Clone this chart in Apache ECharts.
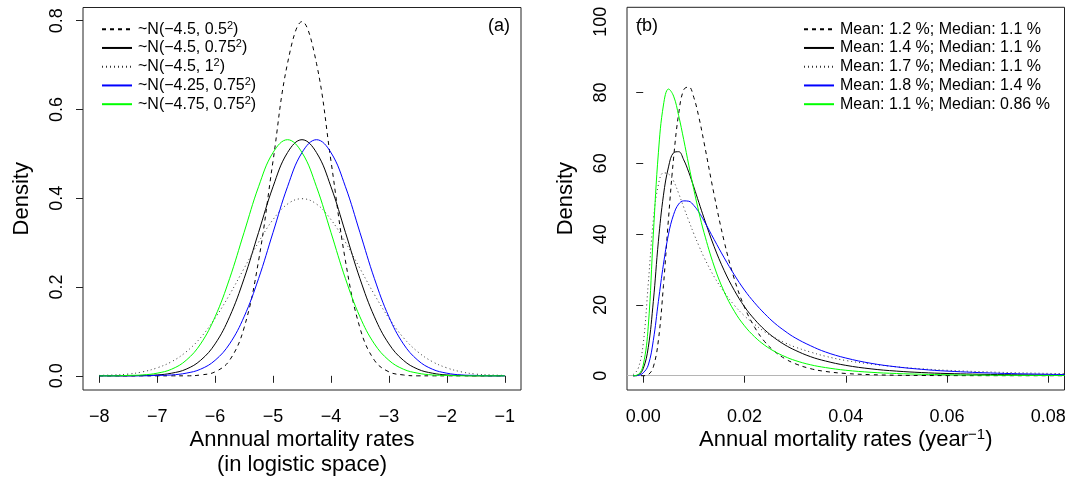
<!DOCTYPE html>
<html>
<head>
<meta charset="utf-8">
<script src="https://cdn.jsdelivr.net/npm/echarts@6/dist/echarts.min.js"></script>
<style>
  html, body { margin: 0; padding: 0; background: #fff; }
  #chart { width: 1076px; height: 477px; }
</style>
</head>
<body>
<div id="chart"></div>
<script>
// ---- Panel (a): densities of annual mortality in logistic space ----
const logitX = [-8, -7.75, -7.5, -7.25, -7, -6.75, -6.5, -6.25, -6, -5.75, -5.5, -5.25, -5, -4.75,
  -4.5, -4.25, -4, -3.75, -3.5, -3.25, -3, -2.75, -2.5, -2.25, -2, -1.75, -1.5, -1.25, -1];
const logitDashed = [0, 0, 0, 0, 0, 0, 0, 0.002, 0.009, 0.035, 0.108, 0.259, 0.484, 0.704,
  0.798, 0.704, 0.484, 0.259, 0.108, 0.035, 0.009, 0.002, 0, 0, 0, 0, 0, 0, 0];
const logitSolid = [0, 0, 0, 0.001, 0.002, 0.006, 0.015, 0.035, 0.072, 0.133, 0.219, 0.323, 0.426, 0.503,
  0.532, 0.503, 0.426, 0.323, 0.219, 0.133, 0.072, 0.035, 0.015, 0.006, 0.002, 0.001, 0, 0, 0];
const logitDotted = [0.001, 0.002, 0.004, 0.009, 0.018, 0.032, 0.054, 0.086, 0.130, 0.183, 0.242, 0.301, 0.352, 0.387,
  0.399, 0.387, 0.352, 0.301, 0.242, 0.183, 0.130, 0.086, 0.054, 0.032, 0.018, 0.009, 0.004, 0.002, 0.001];
const logitBlue = [0, 0, 0, 0, 0.001, 0.002, 0.006, 0.015, 0.035, 0.072, 0.133, 0.219, 0.323, 0.426,
  0.503, 0.532, 0.503, 0.426, 0.323, 0.219, 0.133, 0.072, 0.035, 0.015, 0.006, 0.002, 0.001, 0, 0];
const logitGreen = [0, 0, 0.001, 0.002, 0.006, 0.015, 0.035, 0.072, 0.133, 0.219, 0.323, 0.426, 0.503,
  0.532, 0.503, 0.426, 0.323, 0.219, 0.133, 0.072, 0.035, 0.015, 0.006, 0.002, 0.001, 0, 0, 0, 0];
const logitNames = [
  '~N(−4.5, 0.5{sup|2})',
  '~N(−4.5, 0.75{sup|2})',
  '~N(−4.5, 1{sup|2})',
  '~N(−4.25, 0.75{sup|2})',
  '~N(−4.75, 0.75{sup|2})'
];
const logitTicksX = [-8, -7, -6, -5, -4, -3, -2, -1];
const logitTickLabelsX = ['−8', '−7', '−6', '−5', '−4', '−3', '−2', '−1'];
const logitTicksY = [0, 0.2, 0.4, 0.6, 0.8];
const logitTickLabelsY = ['0.0', '0.2', '0.4', '0.6', '0.8'];

// ---- Panel (b): densities of annual mortality rates ----
const rateX = [-0.002, -0.001, 0, 0.001, 0.002, 0.003, 0.004, 0.005, 0.006, 0.007, 0.008, 0.009, 0.010, 0.011, 0.012,
  0.014, 0.016, 0.018, 0.020, 0.022, 0.024, 0.026, 0.028, 0.030,
  0.033, 0.036, 0.040, 0.045, 0.050, 0.055, 0.060, 0.070, 0.080, 0.0832];
const rateDashed = [0, 0, 0, 0.3, 2.5, 10, 25.5, 44.5, 61.5, 74, 80.8, 81.6, 78.6, 73, 66,
  51.2, 37.9, 27.3, 19.4, 13.7, 9.6, 6.8, 4.8, 3.4,
  2.0, 1.2, 0.63, 0.29, 0.13, 0.06, 0.03, 0.01, 0, 0];
const rateSolid = [0, 0.2, 2, 8, 21, 38, 51, 59, 63, 63.3, 61, 57.5, 53.3, 48.9, 44.6,
  36.5, 29.7, 24.1, 19.5, 15.9, 12.95, 10.6, 8.7, 7.2,
  5.4, 4.15, 2.93, 1.93, 1.30, 0.89, 0.62, 0.32, 0.17, 0.14];
const rateDotted = [0.3, 2, 9, 26, 44, 54, 57.3, 57, 55, 51.5, 47.6, 43.8, 40.1, 36.7, 33.5,
  28.0, 23.6, 19.9, 16.9, 14.5, 12.4, 10.7, 9.3, 8.1,
  6.7, 5.5, 4.3, 3.3, 2.5, 1.95, 1.53, 0.98, 0.65, 0.58];
const rateBlue = [0, 0.1, 0.8, 3, 10, 21, 31.5, 40, 45.5, 48.5, 49.4, 49.3, 48.1, 46.2, 43.8,
  38.5, 33.3, 28.5, 24.2, 20.6, 17.5, 14.8, 12.6, 10.7,
  8.5, 6.7, 5.0, 3.5, 2.5, 1.8, 1.3, 0.7, 0.4, 0.33];
const rateGreen = [0, 0.3, 3, 14, 40, 63, 76.5, 81, 79, 73.5, 66.7, 59.5, 52.6, 46.2, 40.5,
  31.0, 23.7, 18.2, 14.1, 11.0, 8.6, 6.8, 5.4, 4.3,
  3.1, 2.3, 1.54, 0.96, 0.62, 0.41, 0.27, 0.13, 0.06, 0.05];
const rateNames = [
  'Mean: 1.2 %; Median: 1.1 %',
  'Mean: 1.4 %; Median: 1.1 %',
  'Mean: 1.7 %; Median: 1.1 %',
  'Mean: 1.8 %; Median: 1.4 %',
  'Mean: 1.1 %; Median: 0.86 %'
];
const rateTicksX = [0, 0.02, 0.04, 0.06, 0.08];
const rateTickLabelsX = ['0.00', '0.02', '0.04', '0.06', '0.08'];
const rateTicksY = [0, 20, 40, 60, 80, 100];
const rateTickLabelsY = ['0', '20', '40', '60', '80', '100'];

// ---- styling shared by both panels ----
const FONT = '"Liberation Sans", Arial, Helvetica, sans-serif';
const INK = '#000';
const lineKinds = [
  { color: '#000', type: [4, 4] },
  { color: '#000', type: 'solid' },
  { color: '#333', type: [1, 3] },
  { color: '#0000ff', type: 'solid' },
  { color: '#00ff00', type: 'solid' }
];

function pairs(xs, ys) { return xs.map((x, i) => [x, ys[i]]); }
function labelFrom(ticks, labels) {
  return v => {
    const i = ticks.findIndex(t => Math.abs(t - v) < 1e-9);
    return i < 0 ? '' : labels[i];
  };
}

function densitySeries(name, xs, ys, kind, axisIdx) {
  return {
    type: 'line', name, xAxisIndex: axisIdx, yAxisIndex: axisIdx,
    data: pairs(xs, ys), symbol: 'none', smooth: 0.4,
    lineStyle: { width: 1, color: kind.color, type: kind.type },
    itemStyle: { color: kind.color },
    emphasis: { disabled: true }, silent: true
  };
}

function xAxisFor(idx, min, max, ticks, labels, name, nameStyle) {
  return {
    type: 'value', gridIndex: idx, min, max,
    splitLine: { show: false }, axisLine: { show: false },
    axisTick: { show: true, length: 7, customValues: ticks, lineStyle: { color: '#222', width: 1 } },
    axisLabel: { customValues: ticks, formatter: labelFrom(ticks, labels),
      fontSize: 18, color: INK, fontFamily: FONT, margin: 18 },
    name, nameLocation: 'middle', nameGap: 37, nameMoveOverlap: false, nameTextStyle: nameStyle
  };
}

function yAxisFor(idx, min, max, ticks, labels) {
  return {
    type: 'value', gridIndex: idx, min, max,
    splitLine: { show: false }, axisLine: { show: false },
    axisTick: { show: true, length: 7, customValues: ticks, lineStyle: { color: '#222', width: 1 } },
    axisLabel: { customValues: ticks, formatter: labelFrom(ticks, labels), rotate: 90,
      fontSize: 18, color: INK, fontFamily: FONT, margin: 17 },
    name: 'Density', nameLocation: 'middle', nameRotate: 90, nameGap: 50, nameMoveOverlap: false,
    nameTextStyle: { fontSize: 22, color: INK, fontFamily: FONT }
  };
}

function legendFor(names, left) {
  return {
    data: names, orient: 'vertical', left, top: 15.2,
    itemWidth: 30, itemHeight: 10, itemGap: 0.75,
    formatter: n => n,
    // the legend shows only the line sample, without a point marker
    itemStyle: { opacity: 0, borderWidth: 0 },
    textStyle: {
      fontSize: 16, color: INK, fontFamily: FONT, lineHeight: 18, padding: [0, 0, 0, 1],
      rich: { sup: { fontSize: 11, lineHeight: 8, verticalAlign: 'top', fontFamily: FONT, color: INK } }
    },
    selectedMode: false
  };
}

const axisNameStyle = {
  fontSize: 22, color: INK, fontFamily: FONT, lineHeight: 25,
  rich: { sup: { fontSize: 15, lineHeight: 10, verticalAlign: 'top', fontFamily: FONT, color: INK } }
};

const aKeys = [logitDashed, logitSolid, logitDotted, logitBlue, logitGreen];
const bKeys = [rateDashed, rateSolid, rateDotted, rateBlue, rateGreen];

const series = [];
aKeys.forEach((ys, i) => series.push(densitySeries(logitNames[i], logitX, ys, lineKinds[i], 0)));
bKeys.forEach((ys, i) => series.push(densitySeries(rateNames[i], rateX, ys, lineKinds[i], 1)));
// grey zero reference line under the panel (b) densities
series[5].markLine = {
  silent: true, symbol: 'none', label: { show: false }, animation: false,
  lineStyle: { color: '#b5b5b5', type: 'solid', width: 1 },
  data: [{ yAxis: 0 }], z: 1
};

const panelTitle = { fontSize: 18, fontWeight: 'normal', color: INK, fontFamily: FONT };

const option = {
  animation: false,
  backgroundColor: '#fff',
  textStyle: { fontFamily: FONT },
  title: [
    { text: '(a)', left: 488, top: 17, padding: 0, textStyle: panelTitle },
    { text: '(b)', left: 636, top: 17, padding: 0, textStyle: panelTitle }
  ],
  grid: [
    { left: 83, top: 7.5, width: 438, height: 382.5, outerBoundsMode: 'none',
      show: true, borderColor: '#222', borderWidth: 1, backgroundColor: 'transparent' },
    { left: 627, top: 7.3, width: 437.5, height: 382.7, outerBoundsMode: 'none',
      show: true, borderColor: '#222', borderWidth: 1, backgroundColor: 'transparent' }
  ],
  xAxis: [
    xAxisFor(0, -8.28, -0.72, logitTicksX, logitTickLabelsX,
      'Annnual mortality rates\n(in logistic space)', axisNameStyle),
    xAxisFor(1, -0.0032, 0.0832, rateTicksX, rateTickLabelsX,
      'Annual mortality rates (year{sup|−1})', axisNameStyle)
  ],
  yAxis: [
    yAxisFor(0, -0.0319, 0.8298, logitTicksY, logitTickLabelsY),
    yAxisFor(1, -4.04, 104.1, rateTicksY, rateTickLabelsY)
  ],
  legend: [legendFor(logitNames, 96), legendFor(rateNames, 798)],
  series
};

const chart = echarts.init(document.getElementById('chart'), null, { renderer: 'canvas' });
chart.setOption(option);
</script>
</body>
</html>
